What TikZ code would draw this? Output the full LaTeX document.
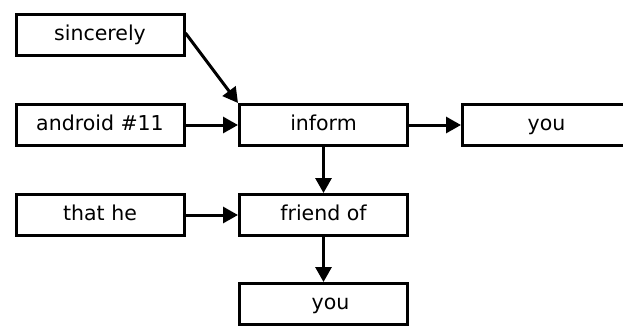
\documentclass[tikz,border=0pt]{standalone}
\usepackage{fontspec}
\setmainfont{DejaVu Sans}
\usetikzlibrary{arrows.meta}
\begin{document}
\begin{tikzpicture}[x=1pt,y=-1pt,
  wbox/.style={draw=black, line width=3pt, fill=white, minimum width=168pt, minimum height=41pt, inner sep=0pt, text height=14pt, text depth=4pt, font=\fontsize{20.5}{24}\selectfont},
  conn/.style={line width=3pt, -{Triangle[length=15pt,width=16pt]}}]
\useasboundingbox (0,0) rectangle (623,325);
\begin{scope}
\clip (0,0) rectangle (623,325);
\node[wbox] (sinc) at (100,35) {sincerely};
\node[wbox] (andr) at (100,125) {android \#11};
\node[wbox] (inform) at (323.5,125) {inform};
\node[wbox] (you1) at (546.5,125) {you};
\node[wbox] (that) at (100,215) {that he};
\node[wbox] (friend) at (323.5,215) {friend of};
\node[wbox] (you2) at (323.5,304) {\hspace*{14pt}you};
\draw[conn] (sinc.east |- 0,33) -- (inform.north west);
\draw[conn] (andr) -- (inform);
\draw[conn] (inform) -- (you1);
\draw[conn] (inform) -- (friend);
\draw[conn] (that) -- (friend);
\draw[conn] (friend) -- (you2);
\end{scope}
\end{tikzpicture}
\end{document}
